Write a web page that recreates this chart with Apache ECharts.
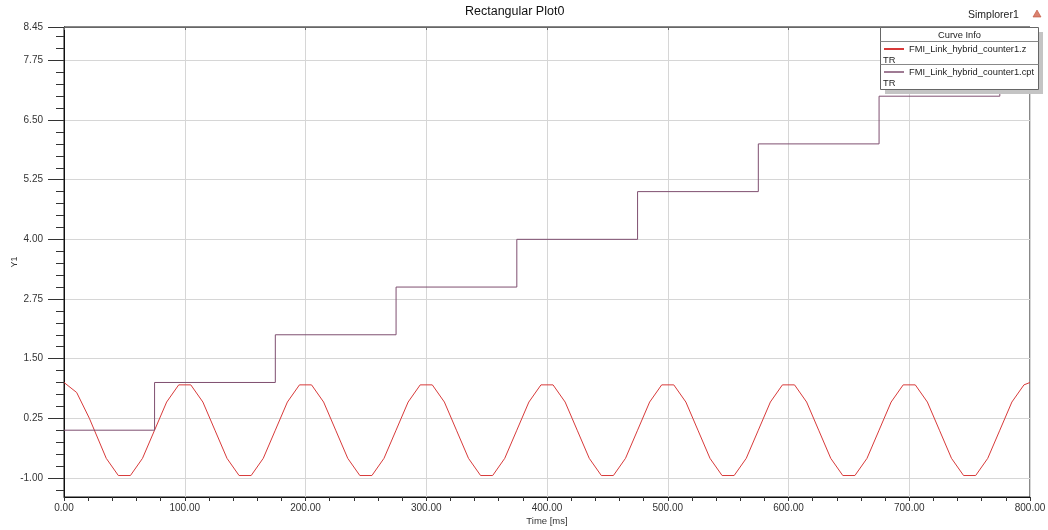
<!DOCTYPE html>
<html>
<head>
<meta charset="utf-8">
<title>Rectangular Plot0</title>
<script src="https://cdn.jsdelivr.net/npm/echarts@6.0.0/dist/echarts.min.js"></script>
<style>
    html, body {margin: 0; padding: 0; background: #fff;}
    #ET1 {width: 1048px; height: 530px;}
</style>
</head>
<body>
<div id="ET1"></div>
<script>
// FMI_Link_hybrid_counter1.z  (time in ms, value)
var zTime = [
    0, 10.5, 21, 35, 45, 55, 65, 75, 85, 95,
    105, 115, 125, 135, 145, 155, 165, 175, 185, 195,
    205, 215, 225, 235, 245, 255, 265, 275, 285, 295,
    305, 315, 325, 335, 345, 355, 365, 375, 385, 395,
    405, 415, 425, 435, 445, 455, 465, 475, 485, 495,
    505, 515, 525, 535, 545, 555, 565, 575, 585, 595,
    605, 615, 625, 635, 645, 655, 665, 675, 685, 695,
    705, 715, 725, 735, 745, 755, 765, 775, 785, 795,
    800
];
var zValue = [
    1.00, 0.79, 0.25, -0.59, -0.95, -0.95, -0.59, 0.00, 0.59, 0.95,
    0.95, 0.59, 0.00, -0.59, -0.95, -0.95, -0.59, 0.00, 0.59, 0.95,
    0.95, 0.59, 0.00, -0.59, -0.95, -0.95, -0.59, 0.00, 0.59, 0.95,
    0.95, 0.59, 0.00, -0.59, -0.95, -0.95, -0.59, 0.00, 0.59, 0.95,
    0.95, 0.59, 0.00, -0.59, -0.95, -0.95, -0.59, 0.00, 0.59, 0.95,
    0.95, 0.59, 0.00, -0.59, -0.95, -0.95, -0.59, 0.00, 0.59, 0.95,
    0.95, 0.59, 0.00, -0.59, -0.95, -0.95, -0.59, 0.00, 0.59, 0.95,
    0.95, 0.59, 0.00, -0.59, -0.95, -0.95, -0.59, 0.00, 0.59, 0.95,
    1.00
];

// FMI_Link_hybrid_counter1.cpt
var cptTime = [0, 75, 175, 275, 375, 475, 575, 675, 775, 800];
var cptValue = [0, 1, 2, 3, 4, 5, 6, 7, 8, 8];

// axis ticks
var yMajorTicks = [-1, 0.25, 1.5, 2.75, 4, 5.25, 6.5, 7.75, 8.45];
var yMinorTicks = [-1.25, -0.75, -0.5, -0.25, 0, 0.5, 0.75, 1, 1.25, 1.75, 2, 2.25, 2.5,
    3, 3.25, 3.5, 3.75, 4.25, 4.5, 4.75, 5, 5.5, 5.75, 6, 6.25, 6.75, 7, 7.25, 7.5, 8, 8.25];

var seriesNames = ['FMI_Link_hybrid_counter1.z', 'FMI_Link_hybrid_counter1.cpt'];

function zip(xs, ys) {
    var out = [];
    for (var i = 0; i < xs.length; i++) {
        out.push([xs[i], ys[i]]);
    }
    return out;
}

~function () {
    var myChart = echarts.init(document.getElementById('ET1'));
    var red = '#d83a3a';
    var purple = '#7f4f70';
    var font = 'Liberation Sans, Arial, sans-serif';
    var fmt = function (v) { return Number(v).toFixed(2); };
    var legendText = function (x, y, text, extra) {
        var style = {text: text, fontSize: 9.3, fill: '#222', verticalAlign: 'middle', fontFamily: font};
        if (extra) { style.align = extra; }
        return {type: 'text', z: 100, x: x, y: y, style: style};
    };
    var option = {
        animation: false,
        backgroundColor: '#fff',
        textStyle: {fontFamily: font},
        title: {
            text: 'Rectangular Plot0',
            left: 465,
            top: 5,
            padding: 0,
            textStyle: {fontSize: 12.5, fontWeight: 'normal', color: '#111'}
        },
        grid: {
            left: 64,
            right: 18,
            top: 27,
            bottom: 33,
            outerBoundsMode: 'none',
            show: true,
            borderColor: '#111',
            borderWidth: 1
        },
        xAxis: [
            {
                type: 'value',
                min: 0,
                max: 800,
                interval: 100,
                position: 'bottom',
                name: 'Time [ms]',
                nameLocation: 'middle',
                nameGap: 19,
                nameMoveOverlap: false,
                nameTextStyle: {fontSize: 9.5, color: '#333'},
                axisLine: {onZero: false, lineStyle: {color: '#111'}},
                axisTick: {length: 4, lineStyle: {color: '#333'}},
                minorTick: {show: true, splitNumber: 5, length: 4, lineStyle: {color: '#333'}},
                axisLabel: {formatter: fmt, fontSize: 10, color: '#333', margin: 6},
                splitLine: {show: true, lineStyle: {color: '#d6d6d6'}}
            },
            {
                type: 'value',
                min: 0,
                max: 800,
                interval: 100,
                position: 'top',
                axisLine: {onZero: false, lineStyle: {color: '#666'}},
                axisTick: {inside: true, length: 3, lineStyle: {color: '#666'}},
                axisLabel: {show: false},
                splitLine: {show: false}
            }
        ],
        yAxis: [
            {
                type: 'value',
                min: -1.4,
                max: 8.45,
                position: 'left',
                name: 'Y1',
                nameLocation: 'middle',
                nameGap: 45,
                nameMoveOverlap: false,
                nameTextStyle: {fontSize: 9, color: '#333'},
                axisLine: {show: true, onZero: false, lineStyle: {color: '#111'}},
                axisTick: {customValues: yMajorTicks, length: 16, lineStyle: {color: '#333'}},
                axisLabel: {customValues: yMajorTicks, formatter: fmt, fontSize: 10, color: '#333', margin: 21},
                splitLine: {show: true, lineStyle: {color: '#d6d6d6'}}
            },
            {
                type: 'value',
                min: -1.4,
                max: 8.45,
                position: 'left',
                axisLine: {show: false, onZero: false},
                axisTick: {customValues: yMinorTicks, length: 8, lineStyle: {color: '#333'}},
                axisLabel: {show: false},
                splitLine: {show: false}
            }
        ],
        series: [
            {
                name: seriesNames[0],
                type: 'line',
                showSymbol: false,
                data: zip(zTime, zValue),
                lineStyle: {color: red, width: 1},
                itemStyle: {color: red}
            },
            {
                name: seriesNames[1],
                type: 'line',
                step: 'end',
                showSymbol: false,
                data: zip(cptTime, cptValue),
                lineStyle: {color: purple, width: 1},
                itemStyle: {color: purple}
            }
        ],
        graphic: [
            {
                type: 'text',
                x: 968,
                y: 15,
                style: {text: 'Simplorer1', fontSize: 10.5, fill: '#222', verticalAlign: 'middle', fontFamily: font}
            },
            {
                type: 'polygon',
                z: 50,
                shape: {points: [[1037, 10], [1033, 17], [1041, 17]]},
                style: {fill: '#d9826f', stroke: '#c0503a', lineWidth: 0.6}
            },
            {type: 'rect', z: 100, shape: {x: 885, y: 32, width: 158, height: 62}, style: {fill: '#c4c4c4'}},
            {type: 'rect', z: 100, shape: {x: 880.5, y: 27.5, width: 158, height: 62}, style: {fill: '#fff', stroke: '#666', lineWidth: 1}},
            {type: 'line', z: 100, shape: {x1: 880.5, y1: 41.5, x2: 1038.5, y2: 41.5}, style: {stroke: '#888', lineWidth: 1}},
            {type: 'line', z: 100, shape: {x1: 880.5, y1: 64.5, x2: 1038.5, y2: 64.5}, style: {stroke: '#888', lineWidth: 1}},
            legendText(959.5, 35, 'Curve Info', 'center'),
            {type: 'line', z: 100, shape: {x1: 884, y1: 49, x2: 904, y2: 49}, style: {stroke: red, lineWidth: 2}},
            legendText(909, 49, seriesNames[0]),
            legendText(883, 60, 'TR'),
            {type: 'line', z: 100, shape: {x1: 884, y1: 72, x2: 904, y2: 72}, style: {stroke: purple, lineWidth: 1.5}},
            legendText(909, 72, seriesNames[1]),
            legendText(883, 83, 'TR')
        ]
    };
    myChart.setOption(option);
}();
</script>
</body>
</html>
